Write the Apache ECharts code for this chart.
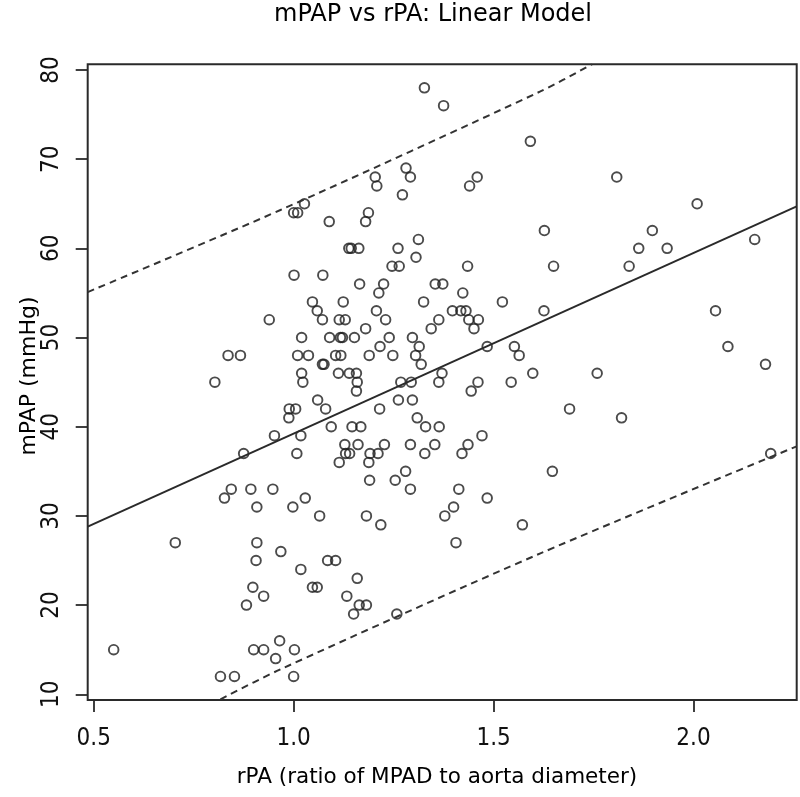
<!DOCTYPE html>
<html>
<head>
<meta charset="utf-8">
<script src="https://cdn.jsdelivr.net/npm/echarts@6/dist/echarts.min.js"></script>
<style>
  html, body { margin: 0; padding: 0; background: #fff; }
  #chart { width: 800px; height: 797px; }
</style>
</head>
<body>
<div id="chart"></div>
<script>
// ---- data ----
const chartTitle = 'mPAP vs rPA: Linear Model';
const xTitle = 'rPA (ratio of MPAD to aorta diameter)';
const yTitle = 'mPAP (mmHg)';

const xTicks = [0.5, 1.0, 1.5, 2.0];
const yTicks = [10, 20, 30, 40, 50, 60, 70, 80];

const rpa = [0.875,1.008,0.827,0.844,0.893,0.948,0.908,0.998,0.704,0.908,0.906,0.968,1.018,0.898,0.925,0.882,0.55,0.90,0.925,1.002,0.965,0.955,0.817,0.852,1.0,
1.001,0.939,0.836,0.867,0.803,1.02,1.01,1.02,1.023,0.989,1.005,0.988,0.952,1.018,
1.0,1.01,1.327,1.375,1.592,1.281,1.204,1.292,1.208,1.44,1.459,1.272,1.027,1.089,1.187,1.18,1.138,1.144,1.163,1.261,1.312,1.306,1.246,1.264,1.435,1.073,
1.808,2.009,1.627,1.897,1.863,1.934,1.65,1.839,2.153,1.626,2.055,2.086,2.18,
1.598,1.759,1.69,1.82,1.647,1.572,2.193,
1.165,1.225,1.354,1.373,1.213,1.423,1.047,1.124,1.325,1.522,1.059,1.207,1.397,1.418,1.431,1.072,1.114,1.129,1.23,1.363,1.438,1.462,1.18,1.344,1.451,1.09,1.117,1.122,1.152,1.239,1.297,1.216,1.314,1.484,1.552,1.037,1.105,1.118,1.189,1.248,1.305,1.564,1.072,1.076,1.319,1.112,1.139,1.157,1.371,1.159,1.268,1.294,1.363,1.461,1.544,1.157,1.444,1.06,1.262,1.297,1.08,1.215,1.309,1.094,1.146,1.168,1.33,1.364,1.471,1.128,1.161,1.227,1.292,1.353,1.436,1.13,1.14,1.191,1.211,1.328,1.421,1.114,1.188,1.28,
1.19,1.254,1.292,1.413,1.029,1.484,1.065,1.182,1.378,1.40,1.218,1.406,1.085,1.105,1.159,1.047,1.059,1.133,1.164,1.182,1.15,1.258];

const mpap = [37,37,32,33,33,33,31,31,27,27,25,26,24,22,21,20,15,15,15,15,16,14,12,12,12,
57,52,48,48,45,50,48,46,45,42,42,41,39,39,
64,64,78,76,72,69,68,68,67,67,68,66,65,63,64,63,60,60,60,60,61,59,58,58,58,57,
68,65,62,62,60,60,58,58,61,53,53,49,47,
46,46,42,41,35,29,37,
56,56,56,56,55,55,54,54,54,54,53,53,53,53,53,52,52,52,52,52,52,52,51,51,51,50,50,50,50,50,50,49,49,49,49,48,48,48,48,48,48,48,47,47,47,46,46,46,46,45,45,45,45,45,45,44,44,43,43,43,42,42,41,40,40,40,40,40,39,38,38,38,38,38,38,37,37,37,37,37,37,36,36,35,
34,34,33,33,32,32,30,30,30,31,29,27,25,25,23,22,22,21,20,20,19,19];

// fitted line and prediction band
const fitX = [0.485, 2.258];
const fitY = [28.8, 64.7];
const upperX = [0.485, 0.967, 1.617, 1.746];
const upperY = [55.1, 64.3, 77.6, 80.64];
const lowerX = [0.817, 0.967, 1.617, 2.258];
const lowerY = [9.44, 12.8, 25.8, 37.8];

// ---- chart ----
const zip = (a, b) => a.map((v, i) => [v, b[i]]);
const ink = '#1e1e1e';
const tickFont = "'Liberation Sans Narrow', 'DejaVu Sans Condensed', 'Liberation Sans', Arial, sans-serif";
const titleFont = "'DejaVu Sans', Verdana, sans-serif";

const chart = echarts.init(document.getElementById('chart'), null, { renderer: 'canvas' });
chart.setOption({
  animation: false,
  backgroundColor: '#ffffff',
  grid: {
    left: 87.7, top: 64.3, right: 3.3, bottom: 97,
    show: true, borderColor: '#2a2a2a', borderWidth: 2, backgroundColor: 'transparent'
  },
  xAxis: {
    type: 'value', min: 0.485, max: 2.258,
    axisLine: { show: false },
    splitLine: { show: false },
    axisTick: { show: true, inside: false, length: 12, customValues: xTicks,
      lineStyle: { color: '#2a2a2a', width: 1.8 } },
    axisLabel: { customValues: xTicks, formatter: v => v.toFixed(1), margin: 27,
      fontSize: 24, fontFamily: tickFont, color: '#111' }
  },
  yAxis: {
    type: 'value', min: 9.36, max: 80.64,
    axisLine: { show: false },
    splitLine: { show: false },
    axisTick: { show: true, inside: false, length: 12, customValues: yTicks,
      lineStyle: { color: '#2a2a2a', width: 1.8 } },
    axisLabel: { customValues: yTicks, rotate: 90, margin: 24, formatter: v => String(v),
      fontSize: 24, fontFamily: tickFont, color: '#111' }
  },
  graphic: [
    { type: 'text', x: 433, y: 15, style: { text: chartTitle, textAlign: 'center', textVerticalAlign: 'middle',
      fontSize: 24, fontFamily: titleFont, fill: '#000' } },
    { type: 'text', x: 437, y: 777, style: { text: xTitle, textAlign: 'center', textVerticalAlign: 'middle',
      fontSize: 21.5, fontFamily: titleFont, fill: '#000' } },
    { type: 'text', x: 29, y: 376, rotation: Math.PI / 2, style: { text: yTitle, textAlign: 'center', textVerticalAlign: 'middle',
      fontSize: 22, fontFamily: titleFont, fill: '#000' } }
  ],
  series: [
    { type: 'line', data: zip(fitX, fitY), symbol: 'none', clip: true, silent: true,
      lineStyle: { color: '#2a2a2a', width: 2, type: 'solid' } },
    { type: 'line', data: zip(upperX, upperY), symbol: 'none', clip: true, silent: true, smooth: 0.3,
      lineStyle: { color: '#333', width: 2, type: [7, 5] } },
    { type: 'line', data: zip(lowerX, lowerY), symbol: 'none', clip: true, silent: true, smooth: 0.3,
      lineStyle: { color: '#333', width: 2, type: [7, 5] } },
    { type: 'scatter', data: zip(rpa, mpap), symbol: 'circle', symbolSize: 9.6,
      itemStyle: { color: 'rgba(0,0,0,0)', borderColor: ink, borderWidth: 1.9 } }
  ]
});
</script>
</body>
</html>
